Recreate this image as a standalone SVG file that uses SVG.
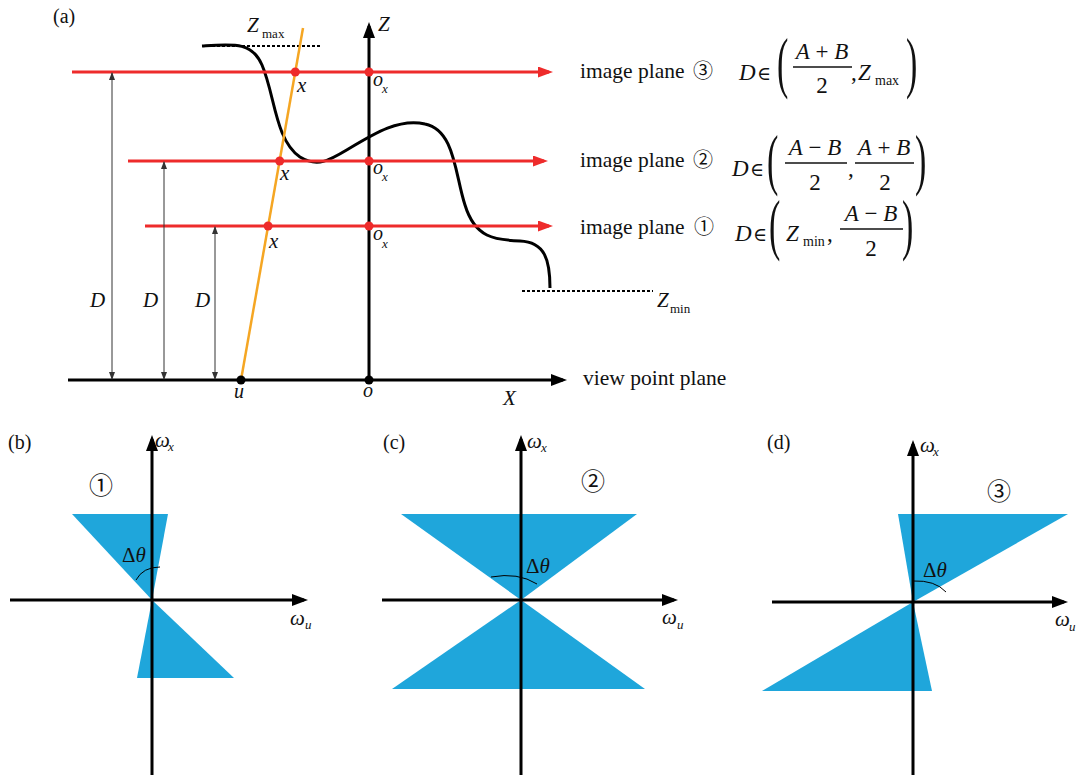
<svg xmlns="http://www.w3.org/2000/svg" width="1076" height="775" viewBox="0 0 1076 775">
<style>
.t{font-family:"Liberation Serif","Tinos","Times New Roman","DejaVu Serif",serif;fill:#111}
.i{font-style:italic}
.cj{font-family:"Noto Sans CJK SC","DejaVu Sans",sans-serif;fill:#111}
.blue{fill:#1fa6db}
.ax{stroke:#000;stroke-width:3;fill:none}
.red{stroke:#ee2b2b;stroke-width:3;fill:none}
.rd{fill:#ee2b2b}
.thin{stroke:#333;stroke-width:1;fill:none}
.dot{stroke:#000;stroke-width:2;stroke-dasharray:3 2;fill:none}
.bar{stroke:#111;stroke-width:1.3}
</style>
<defs>
<marker id="ab" viewBox="0 0 16 12" refX="12" refY="6" markerWidth="16" markerHeight="12" markerUnits="userSpaceOnUse" orient="auto"><path d="M0,0 L16,6 L0,12 z" fill="#000"/></marker>
<marker id="ar" viewBox="0 0 15 11" refX="11" refY="5.5" markerWidth="15" markerHeight="11" markerUnits="userSpaceOnUse" orient="auto"><path d="M0,0 L15,5.5 L0,11 z" fill="#ee2b2b"/></marker>
<marker id="at" viewBox="0 0 8 6" refX="7" refY="3" markerWidth="8" markerHeight="6" markerUnits="userSpaceOnUse" orient="auto-start-reverse"><path d="M0,0 L8,3 L0,6 z" fill="#333"/></marker>
</defs>
<rect width="1076" height="775" fill="#fff"/>

<!-- Panel (a) -->
<g id="panel-a">
  <text class="t" x="53" y="23" font-size="20">(a)</text>
  <path d="M202,46 C235,44 252,42 262,65 C275,95 275,140 300,157 C318,168 330,160 350,148 C375,133 400,118 425,124 C455,130 455,175 465,205 C475,238 495,240 520,241 C545,242 550,260 550,288" fill="none" stroke="#000" stroke-width="3"/>
  <line class="dot" x1="202" y1="46" x2="322" y2="46"/>
  <line class="dot" x1="522" y1="291" x2="653" y2="291"/>
  <line x1="241" y1="380" x2="303" y2="28" stroke="#f5a623" stroke-width="2.5"/>
  <text class="t i" x="247" y="32" font-size="21">Z</text><text class="t" x="262" y="38" font-size="13">max</text>
  <text class="t i" x="378" y="31" font-size="21">Z</text>
  <text class="t i" x="657" y="307" font-size="21">Z</text><text class="t" x="670" y="313" font-size="13">min</text>
</g>

<g id="connectors">
  <line class="ax" x1="68" y1="380" x2="563" y2="380" marker-end="url(#ab)"/>
  <line class="ax" x1="369" y1="380" x2="369" y2="26" marker-end="url(#ab)"/>
  <line class="red" x1="72" y1="72" x2="549" y2="72" marker-end="url(#ar)"/>
  <line class="red" x1="128" y1="161" x2="544" y2="161" marker-end="url(#ar)"/>
  <line class="red" x1="145" y1="226" x2="549" y2="226" marker-end="url(#ar)"/>
  <line class="thin" x1="112" y1="73" x2="112" y2="379" marker-start="url(#at)" marker-end="url(#at)"/>
  <line class="thin" x1="164" y1="162" x2="164" y2="379" marker-start="url(#at)" marker-end="url(#at)"/>
  <line class="thin" x1="215" y1="227" x2="215" y2="379" marker-start="url(#at)" marker-end="url(#at)"/>
</g>

<g id="points">
  <circle class="rd" cx="295.3" cy="72" r="4.5"/>
  <circle class="rd" cx="279.7" cy="161" r="4.5"/>
  <circle class="rd" cx="268.1" cy="226" r="4.5"/>
  <circle class="rd" cx="369" cy="72" r="4.5"/>
  <circle class="rd" cx="369" cy="161" r="4.5"/>
  <circle class="rd" cx="369" cy="226" r="4.5"/>
  <circle cx="241" cy="380" r="4.5" fill="#000"/>
  <circle cx="369" cy="380" r="4.5" fill="#000"/>
</g>

<g id="labels-a">
  <text class="t i" x="297" y="92" font-size="21">x</text>
  <text class="t i" x="280" y="180" font-size="21">x</text>
  <text class="t i" x="269" y="248" font-size="21">x</text>
  <text class="t i" x="373" y="86" font-size="20">o</text><text class="t i" x="382" y="93" font-size="13">x</text>
  <text class="t i" x="373" y="174" font-size="20">o</text><text class="t i" x="382" y="181" font-size="13">x</text>
  <text class="t i" x="373" y="240" font-size="20">o</text><text class="t i" x="382" y="248" font-size="13">x</text>
  <text class="t i" x="90" y="307" font-size="21">D</text>
  <text class="t i" x="143" y="307" font-size="21">D</text>
  <text class="t i" x="195" y="307" font-size="21">D</text>
  <text class="t i" x="234" y="398" font-size="20">u</text>
  <text class="t i" x="363" y="397" font-size="20">o</text>
  <text class="t i" x="503" y="405" font-size="21">X</text>
  <text class="t" x="583" y="385" font-size="21.5">view point plane</text>
</g>

<g id="plane3">
  <text class="t" x="580" y="78" font-size="21.5">image plane</text>
  <text class="cj" x="703" y="78" font-size="20" text-anchor="middle">③</text>
  <text class="t i" x="739" y="80" font-size="23">D</text>
  <text class="t" x="757" y="80" font-size="19">∈</text>
  <text class="t" font-size="68" transform="translate(777,85) scale(0.5,1)">(</text>
  <text class="t" x="822" y="59" font-size="23" text-anchor="middle"><tspan class="i">A</tspan> + <tspan class="i">B</tspan></text>
  <line class="bar" x1="793" y1="67" x2="852" y2="67"/>
  <text class="t" x="822" y="93" font-size="23" text-anchor="middle">2</text>
  <text class="t" x="851" y="80" font-size="23">,</text>
  <text class="t i" x="858" y="80" font-size="23">Z</text>
  <text class="t" x="875" y="85" font-size="14">max</text>
  <text class="t" font-size="68" transform="translate(906,85) scale(0.5,1)">)</text>
</g>

<g id="plane2">
  <text class="t" x="580" y="167" font-size="21.5">image plane</text>
  <text class="cj" x="703" y="167" font-size="20" text-anchor="middle">②</text>
  <text class="t i" x="732" y="176" font-size="23">D</text>
  <text class="t" x="750" y="176" font-size="19">∈</text>
  <text class="t" font-size="68" transform="translate(767,182) scale(0.5,1)">(</text>
  <text class="t" x="815" y="155" font-size="23" text-anchor="middle"><tspan class="i">A</tspan> − <tspan class="i">B</tspan></text>
  <line class="bar" x1="785" y1="163" x2="847" y2="163"/>
  <text class="t" x="815" y="190" font-size="23" text-anchor="middle">2</text>
  <text class="t" x="848" y="176" font-size="23">,</text>
  <text class="t" x="884" y="155" font-size="23" text-anchor="middle"><tspan class="i">A</tspan> + <tspan class="i">B</tspan></text>
  <line class="bar" x1="855" y1="163" x2="914" y2="163"/>
  <text class="t" x="885" y="190" font-size="23" text-anchor="middle">2</text>
  <text class="t" font-size="68" transform="translate(915,182) scale(0.5,1)">)</text>
</g>

<g id="plane1">
  <text class="t" x="580" y="234" font-size="21.5">image plane</text>
  <text class="cj" x="704" y="234" font-size="20" text-anchor="middle">①</text>
  <text class="t i" x="735" y="241" font-size="23">D</text>
  <text class="t" x="753" y="241" font-size="19">∈</text>
  <text class="t" font-size="68" transform="translate(769,247) scale(0.5,1)">(</text>
  <text class="t i" x="786" y="241" font-size="23">Z</text>
  <text class="t" x="803" y="246" font-size="14">min</text>
  <text class="t" x="827" y="241" font-size="23">,</text>
  <text class="t" x="871" y="221" font-size="23" text-anchor="middle"><tspan class="i">A</tspan> − <tspan class="i">B</tspan></text>
  <line class="bar" x1="840" y1="229" x2="903" y2="229"/>
  <text class="t" x="871" y="256" font-size="23" text-anchor="middle">2</text>
  <text class="t" font-size="68" transform="translate(902,247) scale(0.5,1)">)</text>
</g>

<!-- Panel (b) -->
<g id="panel-b">
  <polygon class="blue" points="72,514 168,514 152,600"/>
  <polygon class="blue" points="152,600 137,678 234,678"/>
  <line class="ax" x1="10" y1="600" x2="304" y2="600" marker-end="url(#ab)"/>
  <line class="ax" x1="152" y1="775" x2="152" y2="439" marker-end="url(#ab)"/>
  <path d="M136,580 Q143,567 160,567" fill="none" stroke="#000" stroke-width="1"/>
  <text class="t" x="8" y="449" font-size="20">(b)</text>
  <text class="t i" x="155" y="447" font-size="21">ω</text><text class="t i" x="168" y="451" font-size="13">x</text>
  <text class="t i" x="290" y="625" font-size="21">ω</text><text class="t i" x="305" y="629" font-size="13">u</text>
  <text class="t" x="122" y="562" font-size="21">Δ<tspan class="i">θ</tspan></text>
  <text class="cj" x="101" y="494" font-size="24" text-anchor="middle">①</text>
</g>

<!-- Panel (c) -->
<g id="panel-c">
  <polygon class="blue" points="401,514 637,514 521,600"/>
  <polygon class="blue" points="521,600 392,689 645,689"/>
  <line class="ax" x1="382" y1="600" x2="674" y2="600" marker-end="url(#ab)"/>
  <line class="ax" x1="521" y1="775" x2="521" y2="439" marker-end="url(#ab)"/>
  <path d="M491,577 Q518,572 537,584" fill="none" stroke="#000" stroke-width="1"/>
  <text class="t" x="383" y="449" font-size="20">(c)</text>
  <text class="t i" x="527" y="448" font-size="21">ω</text><text class="t i" x="541" y="452" font-size="13">x</text>
  <text class="t i" x="662" y="624" font-size="21">ω</text><text class="t i" x="677" y="629" font-size="13">u</text>
  <text class="t" x="526" y="573" font-size="21">Δ<tspan class="i">θ</tspan></text>
  <text class="cj" x="593" y="490" font-size="24" text-anchor="middle">②</text>
</g>

<!-- Panel (d) -->
<g id="panel-d">
  <polygon class="blue" points="898,514 1068,514 913,602"/>
  <polygon class="blue" points="913,602 762,691 932,691"/>
  <line class="ax" x1="772" y1="602" x2="1064" y2="602" marker-end="url(#ab)"/>
  <line class="ax" x1="913" y1="775" x2="913" y2="444" marker-end="url(#ab)"/>
  <path d="M913,581 Q935,580 946,592" fill="none" stroke="#000" stroke-width="1"/>
  <text class="t" x="767" y="449" font-size="20">(d)</text>
  <text class="t i" x="920" y="452" font-size="21">ω</text><text class="t i" x="933" y="456" font-size="13">x</text>
  <text class="t i" x="1055" y="626" font-size="21">ω</text><text class="t i" x="1069" y="631" font-size="13">u</text>
  <text class="t" x="923" y="577" font-size="21">Δ<tspan class="i">θ</tspan></text>
  <text class="cj" x="999" y="500" font-size="24" text-anchor="middle">③</text>
</g>
</svg>
